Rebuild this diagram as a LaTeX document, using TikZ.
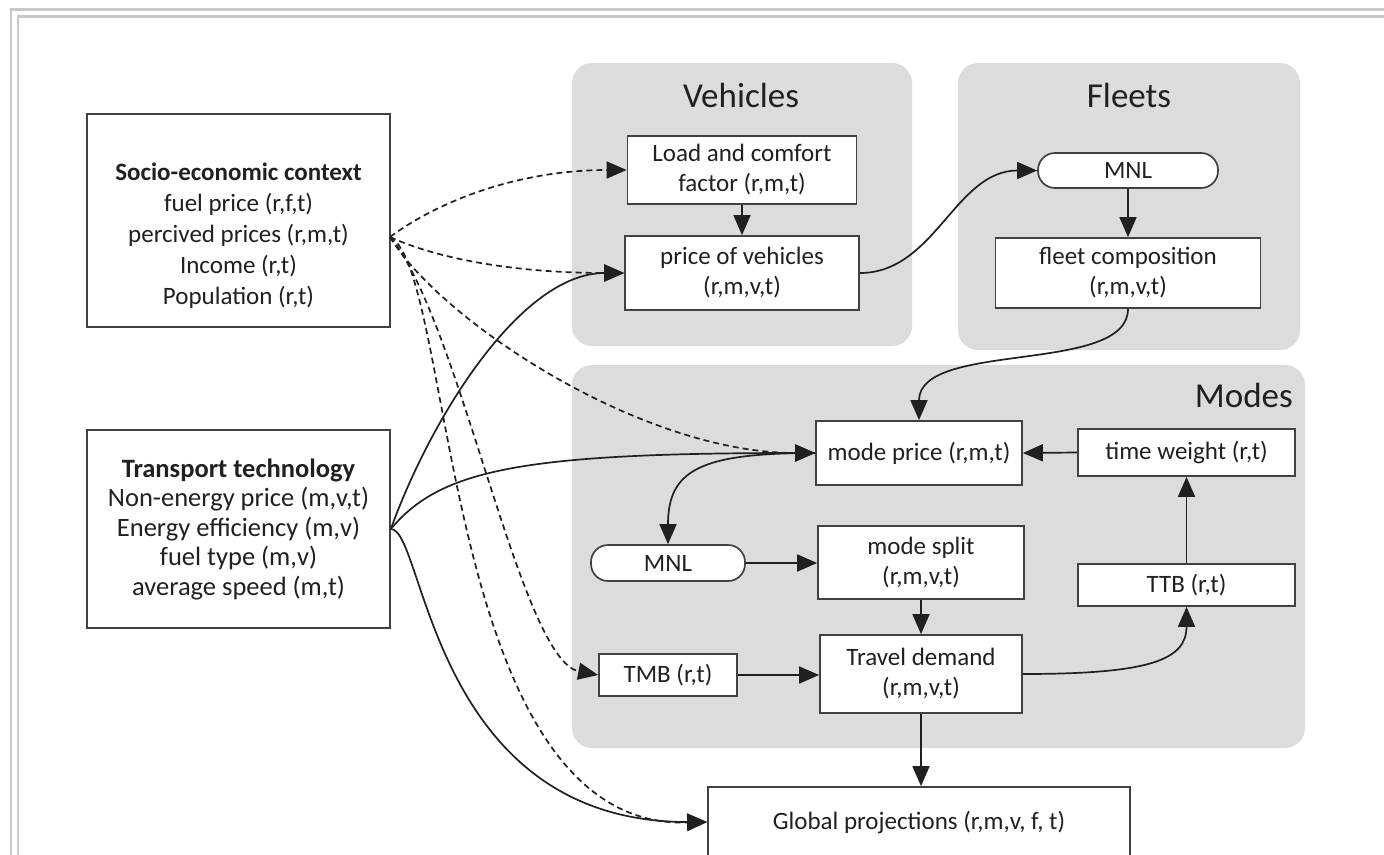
\documentclass[tikz,border=0pt]{standalone}
\usepackage{fontspec}
\setmainfont{Carlito}
\usetikzlibrary{arrows.meta}

\definecolor{panelgray}{RGB}{220,220,222}
\definecolor{ink}{RGB}{32,32,32}
\definecolor{edge}{RGB}{65,65,65}
\definecolor{framegray}{RGB}{200,200,200}

\begin{document}
\begin{tikzpicture}[x=1pt,y=-1pt,
  box/.style={draw=edge, line width=1.7pt, fill=white, rectangle, inner sep=0pt,
              align=center, text=ink, font=\fontsize{25}{30}\selectfont},
  pill/.style={box, rounded corners=17pt},
  panel/.style={fill=panelgray, rounded corners=20pt},
  paneltitle/.style={text=ink, font=\fontsize{35}{40}\selectfont, inner sep=0pt},
  conn/.style={draw=ink, line width=1.7pt, -{Triangle[length=20pt,width=17pt]}},
  dashconn/.style={conn, dash pattern=on 6pt off 4pt},
]
\useasboundingbox (0,0) rectangle (1384,854);

% page frame
\draw[framegray, line width=2.5pt] (11,860) -- (11,9.5) -- (1390,9.5);
\draw[framegray, line width=2.2pt] (17.7,860) -- (17.7,16.5) -- (1390,16.5);

% grey group panels
\path[panel] (572,63) rectangle (912,346);
\path[panel] (958,63) rectangle (1300,350);
\path[panel] (572,365) rectangle (1305,748);

\node[paneltitle] (tveh) at (741,95) {Vehicles};
\node[paneltitle] (tfleet) at (1129,95) {Fleets};
\node[paneltitle, anchor=east] (tmodes) at (1293,395) {Modes};

% input boxes
\node[box, minimum width=303pt, minimum height=213pt] (soc) at (238.5,220.5) {};
\node[text=ink, align=center, inner sep=0pt, font=\fontsize{25}{31}\selectfont] (soctext) at (238.5,236)
  {\textbf{Socio-economic context}\\fuel price (r,f,t)\\percived prices (r,m,t)\\Income (r,t)\\Population (r,t)};
\node[box, minimum width=303pt, minimum height=198pt, font=\fontsize{26.5}{29.5}\selectfont] (tech) at (238.5,529)
  {\textbf{Transport technology}\\Non-energy price (m,v,t)\\Energy efficiency (m,v)\\fuel type (m,v)\\average speed (m,t)};

% vehicles
\node[box, minimum width=229pt, minimum height=68pt] (load) at (742,170) {Load and comfort\\factor (r,m,t)};
\node[box, minimum width=234pt, minimum height=74pt] (pov) at (742,273) {price of vehicles\\(r,m,v,t)};

% fleets
\node[pill, minimum width=180pt, minimum height=35pt] (mnlF) at (1128,170.5) {MNL};
\node[box, minimum width=265pt, minimum height=70pt] (fleet) at (1128,273) {fleet composition\\(r,m,v,t)};

% modes
\node[box, minimum width=206pt, minimum height=64pt] (mp) at (919,453) {mode price (r,m,t)};
\node[box, minimum width=217pt, minimum height=47pt] (tw) at (1186.5,452.5) {time weight (r,t)};
\node[pill, minimum width=154pt, minimum height=36pt] (mnlM) at (668,563) {MNL};
\node[box, minimum width=206pt, minimum height=73pt] (ms) at (921,562.5) {mode split\\(r,m,v,t)};
\node[box, minimum width=217pt, minimum height=42pt] (ttb) at (1186.5,585) {TTB (r,t)};
\node[box, minimum width=138pt, minimum height=42pt] (tmb) at (668,675) {TMB (r,t)};
\node[box, minimum width=202pt, minimum height=78pt] (td) at (921,674) {Travel demand\\(r,m,v,t)};

% output
\node[box, minimum width=422pt, minimum height=70pt] (gp) at (919,822) {Global projections (r,m,v, f, t)};

% flows inside the groups
\draw[conn] (load.south) -- (pov.north);
\draw[conn] (pov.east) .. controls (935,273) and (955,170.5) .. (mnlF.west);
\draw[conn] (mnlF.south) -- (fleet.north);
\draw[conn] (fleet.south) .. controls (1128,375) and (919,340) .. (mp.north);
\draw[conn] (tw.west) -- (mp.east);
\draw[conn] (ttb.north) -- (tw.south);
\draw[conn] (mp.west) .. controls (700,453) and (668,470) .. (mnlM.north);
\draw[conn] (mnlM.east) -- (mnlM.east -| ms.west);
\draw[conn] (ms.south) -- (td.north);
\draw[conn] (tmb.east) -- (tmb.east -| td.west);
\draw[conn] (td.east) .. controls (1150,674) and (1186.5,660) .. (ttb.south);
\draw[conn] (td.south) -- (td.south |- gp.north);

% transport technology inputs
\draw[conn] (tech.east) .. controls (430,420) and (520,273) .. (pov.west);
\draw[conn] (tech.east) .. controls (440,470) and (520,453) .. (mp.west);
\draw[conn] (tech.east) .. controls (425,529) and (430,822) .. (gp.west);

% socio-economic inputs
\coordinate (sout) at (390,237);
\draw[dashconn] (sout) .. controls (440,200) and (520,170) .. (load.west);
\draw[dashconn] (sout) .. controls (440,260) and (520,273) .. (pov.west);
\draw[dashconn] (sout) .. controls (440,320) and (640,453) .. (mp.west);
\draw[dashconn] (sout) .. controls (460,320) and (520,660) .. (tmb.west);
\draw[dashconn] (sout) .. controls (455,270) and (440,830) .. (gp.west);
\end{tikzpicture}
\end{document}
